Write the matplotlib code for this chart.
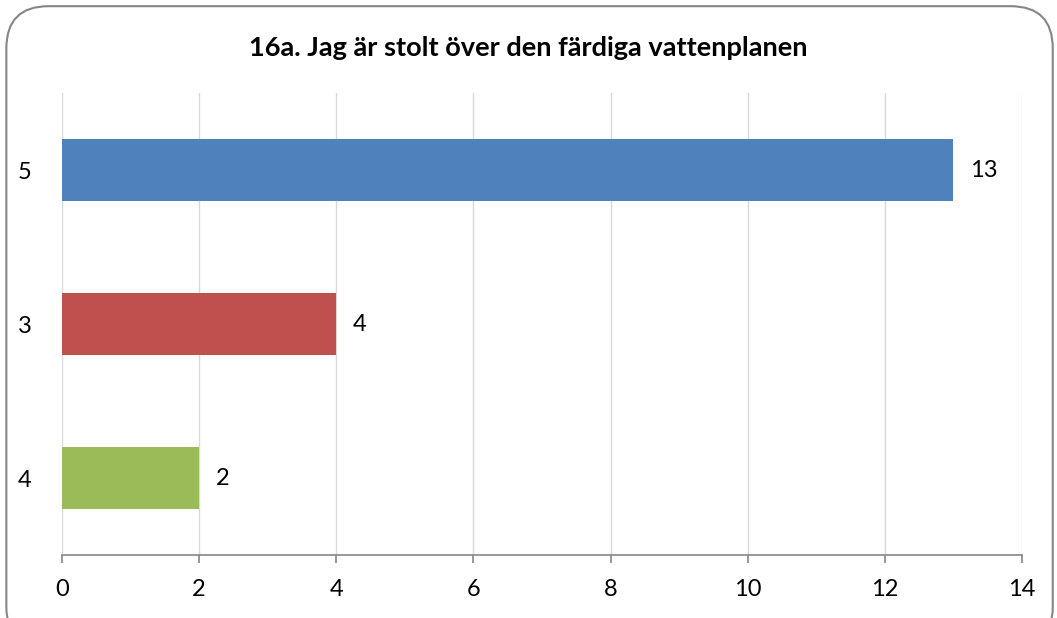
import matplotlib.pyplot as plt
from matplotlib.patches import FancyBboxPatch

categories = ["4", "3", "5"]
values = [2, 4, 13]
colors = ["#9BBB59", "#C0504D", "#4F81BD"]
title = "16a. Jag är stolt över den färdiga vattenplanen"

plt.rcParams['font.family'] = ['Lato', 'DejaVu Sans']

fig = plt.figure(figsize=(10.57, 6.18), dpi=100)
ax = fig.add_axes([0.0587, 0.1019, 0.9082, 0.7476])

pos = list(range(len(categories)))
ax.barh(pos, values, height=0.4, color=colors, zorder=3)
for p, v in zip(pos, values):
    ax.text(v + 0.24, p, str(v), va="center", ha="left", fontsize=17)

ax.set_xlim(0, 14)
ax.set_ylim(-0.5, 2.5)
ax.set_xticks(range(0, 15, 2))
ax.set_yticks(pos)
ax.set_yticklabels(categories)
ax.grid(axis="x", color="#D9D9D9", linewidth=1, zorder=0)
for s in ["top", "right", "left"]:
    ax.spines[s].set_visible(False)
ax.spines["bottom"].set_color("#868686")
ax.spines["bottom"].set_linewidth(1.2)
ax.tick_params(axis="x", length=6, color="#868686", width=1.2, labelsize=17, pad=11)
ax.tick_params(axis="y", length=0, labelsize=17, pad=22)

fig.text(0.5, 0.922, title, ha="center", va="center", fontsize=19.5, fontweight="bold")

# rounded chart frame
frame = FancyBboxPatch((0.006, -0.05), 0.99, 1.04, boxstyle="round,pad=0,rounding_size=0.04",
                       transform=fig.transFigure, fill=False, edgecolor="#868686",
                       linewidth=1.5, mutation_aspect=1.71)
fig.patches.append(frame)

fig.savefig("out.png", dpi=100)
